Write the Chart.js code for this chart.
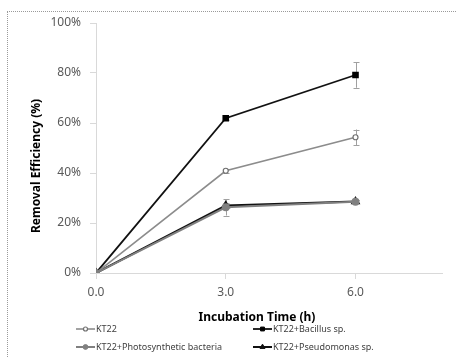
<!DOCTYPE html>
<html>
<head>
<meta charset="utf-8">
<script src="https://cdn.jsdelivr.net/npm/chart.js@4.4.0/dist/chart.umd.min.js"></script>
<style>
  html, body { margin: 0; padding: 0; background: #fff; }
  #wrap { position: relative; width: 457px; height: 358px; }
  #frame { position: absolute; left: 7px; top: 11px; right: -5px; bottom: -5px;
           border-top: 1px dotted #9a9a9a; border-left: 1px dotted #9a9a9a; pointer-events: none; }
  canvas { position: absolute; left: 0; top: 0; }
</style>
</head>
<body>
<div id="wrap">
  <canvas id="c" width="457" height="358"></canvas>
  <div id="frame"></div>
</div>
<script>
const times = [0, 3, 6];
const xTicks = [0, 3, 6];
const seriesNames = ["KT22", "KT22+Bacillus sp.", "KT22+Photosynthetic bacteria", "KT22+Pseudomonas sp."];
const kt22 = [0, 40.9, 54.3];
const kt22Err = [0, 0.8, 3.1];
const bacillus = [0, 61.9, 79.2];
const bacillusErr = [0, 0.5, 5.1];
const photo = [0, 26.3, 28.5];
const photoErr = [0, 3.3, 0.6];
const pseudo = [0, 27.0, 28.6];
const pseudoErr = [0, 1.0, 0.5];
const xTitle = "Incubation Time (h)";
const yTitle = "Removal Efficiency (%)";

const FONT = "'Noto Sans', 'Open Sans', sans-serif";

function pts(vals) { return times.map((t, i) => ({ x: t, y: vals[i] })); }

const datasets = [
  { label: seriesNames[2], data: pts(photo), err: photoErr, borderColor: '#808080', backgroundColor: '#808080',
    pointStyle: 'circle', pointRadius: 3, pointBorderColor: '#808080', pointBackgroundColor: '#808080', borderWidth: 2 },
  { label: seriesNames[0], data: pts(kt22), err: kt22Err, borderColor: '#8c8c8c', backgroundColor: '#ffffff',
    pointStyle: 'circle', pointRadius: 2.5, pointBorderColor: '#707070', pointBackgroundColor: '#ffffff', pointBorderWidth: 1.2, borderWidth: 1.6 },
  { label: seriesNames[3], data: pts(pseudo), err: pseudoErr, borderColor: '#111111', backgroundColor: '#111111',
    pointStyle: 'triangle', pointRadius: 3.6, pointBorderColor: '#111111', pointBackgroundColor: '#111111', borderWidth: 2 },
  { label: seriesNames[1], data: pts(bacillus), err: bacillusErr, borderColor: '#111111', backgroundColor: '#000000',
    pointStyle: 'rect', pointRadius: 3.4, pointBorderColor: '#000000', pointBackgroundColor: '#000000', borderWidth: 1.8 }
];

const errorBars = {
  id: 'errorBars',
  beforeDatasetsDraw(chart) {
    const ctx = chart.ctx, xs = chart.scales.x, ys = chart.scales.y;
    ctx.save();
    ctx.strokeStyle = '#a0a0a0';
    ctx.lineWidth = 1;
    chart.data.datasets.forEach(ds => {
      ds.data.forEach((p, i) => {
        const e = ds.err[i];
        if (!e) return;
        const x = Math.round(xs.getPixelForValue(p.x)) + 0.5;
        const y1 = ys.getPixelForValue(p.y + e), y2 = ys.getPixelForValue(p.y - e);
        ctx.beginPath();
        ctx.moveTo(x, y1); ctx.lineTo(x, y2);
        ctx.moveTo(x - 3, Math.round(y1) + 0.5); ctx.lineTo(x + 3, Math.round(y1) + 0.5);
        ctx.moveTo(x - 3, Math.round(y2) + 0.5); ctx.lineTo(x + 3, Math.round(y2) + 0.5);
        ctx.stroke();
      });
    });
    ctx.restore();
  }
};

const extras = {
  id: 'extras',
  afterDraw(chart) {
    const ctx = chart.ctx;
    ctx.save();
    ctx.fillStyle = '#000';
    ctx.font = "bold 12px " + FONT;
    ctx.textAlign = 'center';
    ctx.textBaseline = 'middle';
    ctx.fillText(xTitle, 257, 318);
    ctx.translate(37, 166);
    ctx.rotate(-Math.PI / 2);
    ctx.fillText(yTitle, 0, 0);
    ctx.restore();

    // legend (two columns)
    const order = [1, 3, 0, 2]; // KT22, Bacillus, Photo, Pseudo
    const pos = [[76, 329], [253, 329], [76, 347], [253, 347]];
    ctx.save();
    ctx.font = "9px " + FONT;
    ctx.textBaseline = 'middle';
    ctx.textAlign = 'left';
    order.forEach((di, k) => {
      const ds = chart.data.datasets[di];
      const [lx, ly] = pos[k];
      ctx.strokeStyle = ds.borderColor;
      ctx.lineWidth = ds.borderWidth;
      ctx.beginPath();
      ctx.moveTo(lx, ly); ctx.lineTo(lx + 19, ly);
      ctx.stroke();
      ctx.fillStyle = ds.pointBackgroundColor;
      ctx.strokeStyle = ds.pointBorderColor;
      ctx.lineWidth = ds.pointBorderWidth || 1;
      Chart.helpers.drawPoint(ctx, {
        pointStyle: ds.pointStyle, rotation: 0, radius: ds.pointRadius * 0.8,
        borderWidth: ds.pointBorderWidth || 1
      }, lx + 9.5, ly);
      ctx.fillStyle = '#404040';
      ctx.fillText(ds.label, lx + 20, ly + 0.5);
    });
    ctx.restore();
  }
};

new Chart(document.getElementById('c'), {
  type: 'line',
  data: { datasets },
  options: {
    responsive: false,
    animation: false,
    layout: { padding: { left: 27, right: 15, top: 23, bottom: 0 } },
    plugins: { legend: { display: false }, tooltip: { enabled: false } },
    elements: { line: { tension: 0 } },
    scales: {
      x: {
        type: 'linear', min: 0, max: 8,
        afterBuildTicks(s) { s.ticks = xTicks.map(v => ({ value: v })); },
        afterFit(s) { s.height = 85; },
        ticks: { callback: v => v.toFixed(1), color: '#595959', font: { family: FONT, size: 12 }, padding: 6, maxRotation: 0 },
        grid: { display: true, drawOnChartArea: false, drawTicks: true, tickLength: 6, color: '#d9d9d9' },
        border: { display: true, color: '#d9d9d9', width: 1 }
      },
      y: {
        min: 0, max: 100,
        afterFit(s) { s.width = 69; },
        ticks: { stepSize: 20, callback: v => v + '%', color: '#595959', font: { family: FONT, size: 12 }, padding: 9 },
        grid: { display: true, drawOnChartArea: false, drawTicks: true, tickLength: 6, color: '#d9d9d9' },
        border: { display: true, color: '#d9d9d9', width: 1 }
      }
    }
  },
  plugins: [errorBars, extras]
});
</script>
</body>
</html>
